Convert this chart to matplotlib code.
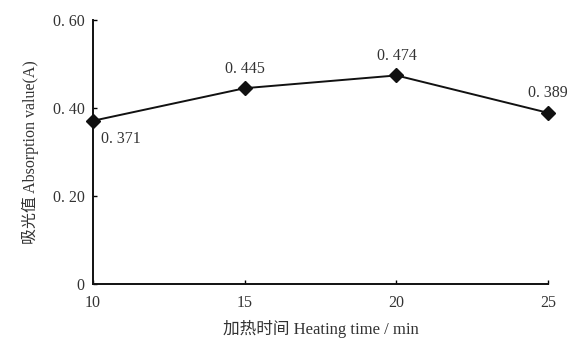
import matplotlib
matplotlib.use("Agg")
import matplotlib.pyplot as plt

plt.rcParams['font.family'] = ['Liberation Serif', 'Noto Sans CJK SC']

# data
heating_time = [10, 15, 20, 25]
absorption = [0.371, 0.445, 0.474, 0.389]
labels = ['0. 371', '0. 445', '0. 474', '0. 389']
yticks = [0, 0.20, 0.40, 0.60]
ytick_labels = ['0', '0. 20', '0. 40', '0. 60']

fig = plt.figure(figsize=(5.74, 3.44), dpi=100)
ax = fig.add_axes([0.162, 0.174, 0.793, 0.768])

ax.plot(heating_time, absorption, color='#111111', lw=1.4, marker='D', ms=7,
        mec='#111111', mfc='#111111', clip_on=False, zorder=3)

# value labels
for x, y, t in zip(heating_time, absorption, labels):
    if x == 10:
        ax.annotate(t, (x, y), xytext=(6, -13), textcoords='offset points', ha='left', va='center', fontsize=11.5, color='#333333')
    else:
        ax.annotate(t, (x, y), xytext=(0, 14), textcoords='offset points', ha='center', va='center', fontsize=11.5, color='#333333')

ax.set_xlim(10, 25)
ax.set_ylim(0, 0.60)
ax.set_xticks(heating_time)
ax.set_yticks(yticks)
ax.set_yticklabels(ytick_labels)
ax.tick_params(axis='x', direction='in', length=3, width=1, labelsize=11.5, labelcolor='#333333', pad=8)
ax.tick_params(axis='y', direction='in', length=3, width=1, labelsize=11.5, labelcolor='#333333', pad=6)
ax.spines['top'].set_visible(False)
ax.spines['right'].set_visible(False)
for s in ['left', 'bottom']:
    ax.spines[s].set_linewidth(1.4)
    ax.spines[s].set_color('#111111')

ax.set_xlabel('加热时间 Heating time / min', fontsize=12, color='#333333', labelpad=6)
ax.set_ylabel('吸光值 Absorption value(A)', fontsize=11.5, color='#333333', labelpad=10)

fig.savefig('out.png', dpi=100)
